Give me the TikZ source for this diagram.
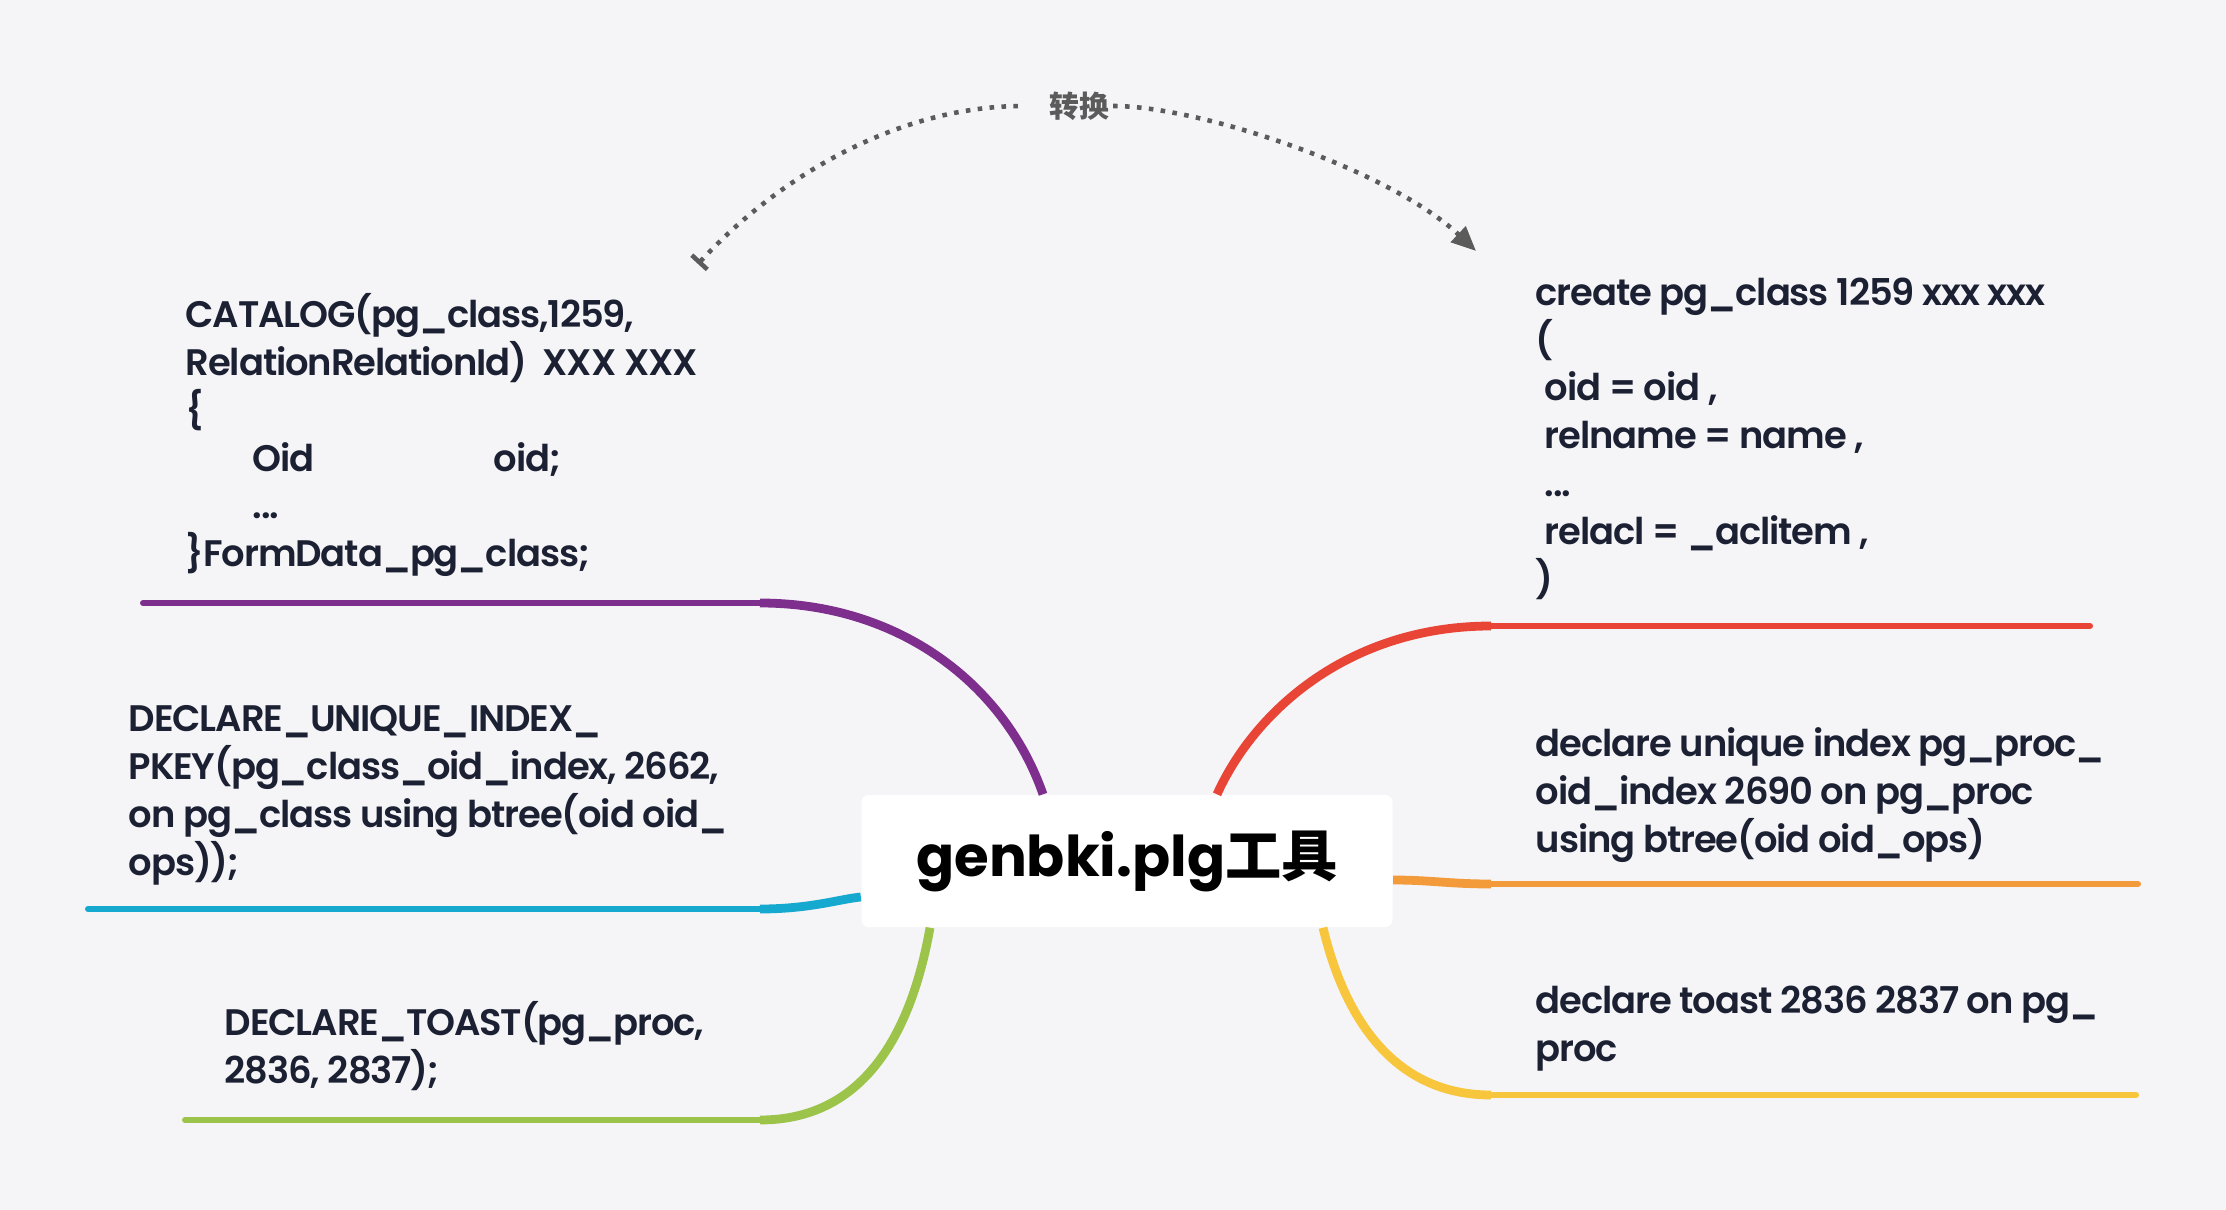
\documentclass[tikz,border=0pt]{standalone}
\usepackage{fontspec}
\setmainfont{Poppins}
\newfontfamily\codefont{Poppins SemiBold}[LetterSpace=-3]
\newfontfamily\cjk{Noto Sans CJK SC}
\usetikzlibrary{arrows.meta}

\definecolor{bgcol}{HTML}{F5F5F7}
\definecolor{codecol}{HTML}{1C2033}
\definecolor{linkcol}{HTML}{5B5B5B}
\definecolor{catcol}{HTML}{7E2F8E}
\definecolor{uidxcol}{HTML}{16A9D0}
\definecolor{toastcol}{HTML}{9DC44A}
\definecolor{crtcol}{HTML}{E84536}
\definecolor{didxcol}{HTML}{F39A3A}
\definecolor{dtoastcol}{HTML}{F8C63C}

\begin{document}
\begin{tikzpicture}[
        code/.style={anchor=north west,align=left,inner sep=0pt,text=codecol,
            font=\codefont\fontsize{10.5pt}{13.6pt}\selectfont},
        branch/.style={line width=1.7pt,line cap=round},
        limb/.style={line width=2.5pt},
        link/.style={draw=linkcol,line width=1.3pt,dash pattern=on 1.3pt off 2.1pt},
        toolbox/.style={fill=white,rounded corners=2pt,inner sep=0pt,
            minimum width=5.31cm,minimum height=1.32cm,
            font=\bfseries\fontsize{16pt}{18pt}\selectfont}
    ]
        % Background
        \path [fill=bgcol] (0,0) rectangle (22.26,-12.10);
        \useasboundingbox (0,0) rectangle (22.26,-12.10);

        % Centre
        \node [toolbox] (tool) at (11.27,-8.61) {genbki.plg{\cjk 工具}};

        % Left branches
        \coordinate (catend)   at (1.43,-6.03);
        \coordinate (catknee)  at (7.60,-6.03);
        \coordinate (uidxend)  at (0.88,-9.09);
        \coordinate (uidxknee) at (7.60,-9.09);
        \coordinate (toastend) at (1.85,-11.20);
        \coordinate (toastknee) at (7.60,-11.20);
        \draw [branch,catcol] (catend) -- (catknee);
        \draw [limb,catcol] (catknee) .. controls (9.00,-6.03) and (10.05,-6.85)
            .. ([xshift=-0.84cm]tool.north);
        \draw [branch,uidxcol] (uidxend) -- (uidxknee);
        \draw [limb,uidxcol] (uidxknee) .. controls (8.10,-9.09) and (8.40,-8.99)
            .. ([yshift=-0.36cm]tool.west);
        \draw [branch,toastcol] (toastend) -- (toastknee);
        \draw [limb,toastcol] (toastknee) .. controls (8.60,-11.20) and (9.10,-10.40)
            .. ([xshift=-1.97cm]tool.south);

        % Right branches
        \coordinate (crtknee)  at (14.91,-6.26);
        \coordinate (crtend)   at (20.90,-6.26);
        \coordinate (didxknee) at (14.91,-8.84);
        \coordinate (didxend)  at (21.38,-8.84);
        \coordinate (dtoastknee) at (14.91,-10.95);
        \coordinate (dtoastend)  at (21.36,-10.95);
        \draw [limb,crtcol] ([xshift=0.90cm]tool.north) .. controls (12.55,-7.10)
            and (13.50,-6.26) .. (crtknee);
        \draw [branch,crtcol] (crtknee) -- (crtend);
        \draw [limb,didxcol] ([yshift=-0.19cm]tool.east) .. controls (14.30,-8.80)
            and (14.50,-8.84) .. (didxknee);
        \draw [branch,didxcol] (didxknee) -- (didxend);
        \draw [limb,dtoastcol] ([xshift=1.96cm]tool.south) .. controls (13.45,-10.20)
            and (13.95,-10.95) .. (dtoastknee);
        \draw [branch,dtoastcol] (dtoastknee) -- (dtoastend);

        % Labels
        \node [code] (catalog) at (1.85,-2.93) {CATALOG(pg\_class,1259,\\
            RelationRelationId)\ \ XXX XXX\\
            \{\\
            \hspace*{0.67cm}\makebox[2.41cm][l]{Oid}oid;\\
            \hspace*{0.67cm}...\\
            \}FormData\_pg\_class;};
        \node [code] (uidx) at (1.28,-7.05) {DECLARE\_UNIQUE\_INDEX\_\\
            PKEY(pg\_class\_oid\_index, 2662,\\
            on pg\_class using btree(oid oid\_\\
            ops));};
        \node [code] (toast) at (2.24,-10.01) {DECLARE\_TOAST(pg\_proc,\\
            2836, 2837);};
        \node [code] (create) at (15.35,-2.77) {create pg\_class 1259 xxx xxx\\
            (\\
            \hspace*{0.09cm}oid = oid ,\\
            \hspace*{0.09cm}relname = name ,\\
            \hspace*{0.09cm}...\\
            \hspace*{0.09cm}relacl = \_aclitem ,\\
            )};
        \node [code] (declidx) at (15.35,-7.27) {declare unique index pg\_proc\_\\
            oid\_index 2690 on pg\_proc\\
            using btree(oid oid\_ops)};
        \node [code] (decltoast) at (15.35,-9.85) {declare toast 2836 2837 on pg\_\\
            proc};

        % Conversion
        \coordinate (src) at (6.98,-2.64);
        \coordinate (dst) at (14.76,-2.51);
        \node [text=linkcol,inner sep=1pt,
            font=\cjk\bfseries\fontsize{8.5pt}{9pt}\selectfont] (conv)
            at (10.79,-1.06) {转换};
        \draw [link,{Bar[width=6pt]}-] (src) .. controls (7.80,-1.75)
            and (9.00,-1.06) .. ([xshift=-0.22cm]conv.west);
        \draw [link,-{Triangle[length=7pt,width=6pt]}] (conv.east)
            .. controls (12.00,-1.06) and (13.90,-1.70) .. (dst);
    \end{tikzpicture}
\end{document}
